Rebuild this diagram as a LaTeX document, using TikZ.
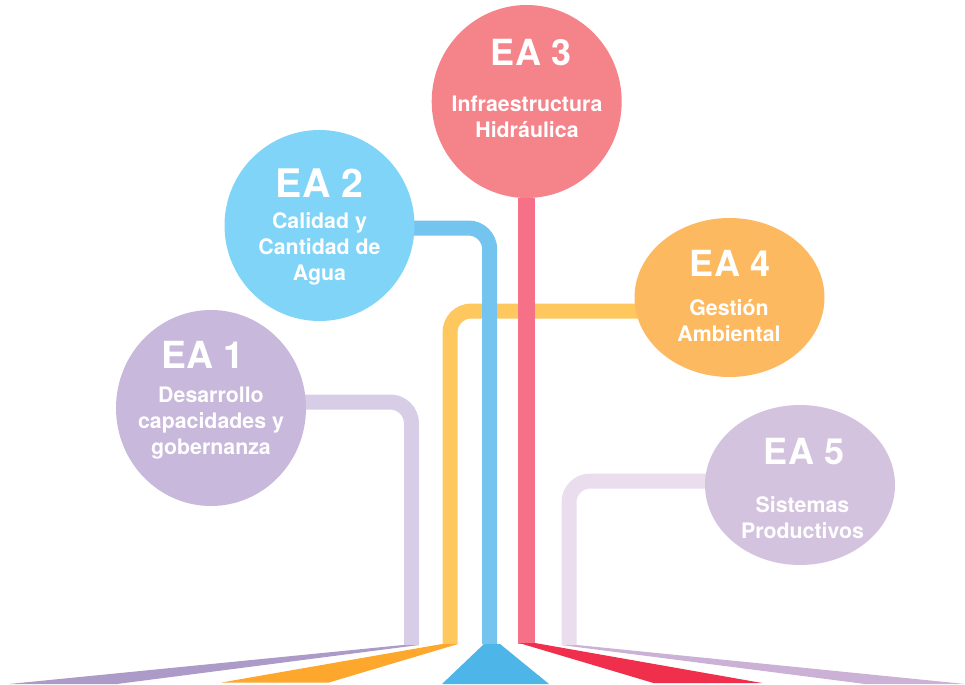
\documentclass[tikz,border=0pt]{standalone}
\usepackage{fontspec}
\setmainfont{TeX Gyre Heros}
\usetikzlibrary{shapes.geometric,backgrounds}
\definecolor{cA}{HTML}{C8B8DB}\definecolor{cB}{HTML}{80D4F8}\definecolor{cC}{HTML}{F5838A}\definecolor{cD}{HTML}{FDB95F}\definecolor{cE}{HTML}{D4C3DF}
\definecolor{lA}{HTML}{D8CDE6}\definecolor{lB}{HTML}{73C5F0}\definecolor{lC}{HTML}{F67088}\definecolor{lD}{HTML}{FFC85F}\definecolor{lE}{HTML}{E9DDEE}
\definecolor{tA}{HTML}{AC9BC9}\definecolor{tB}{HTML}{4DB5E8}\definecolor{tC}{HTML}{F02F4D}\definecolor{tD}{HTML}{FDA82D}\definecolor{tE}{HTML}{CCB1D6}
\tikzset{
  blob/.style={ellipse,inner sep=0pt,minimum width=142.5pt},
  head/.style={text=white,font=\fontsize{27}{27}\selectfont\bfseries,inner sep=0pt},
  body/.style={text=white,font=\fontsize{16}{19.6}\selectfont\bfseries,align=center,inner sep=0pt},
  link/.style={line width=11.25pt,rounded corners=16pt}
}
\begin{document}
\begin{tikzpicture}[x=0.75pt,y=-0.75pt]
\useasboundingbox (0,0) rectangle (965,685);
% circles
\node[blob,fill=cA,minimum height=147pt] (ea1) at (211,408) {};
\node[blob,fill=cB,minimum height=143.25pt] (ea2) at (319.5,225.5) {};
\node[blob,fill=cC,minimum height=144.75pt] (ea3) at (526.7,101.5) {};
\node[blob,fill=cD,minimum height=119.25pt] (ea4) at (729.5,297.5) {};
\node[blob,fill=cE,minimum height=120pt] (ea5) at (800,485) {};
% connector bends and ends
\coordinate (s1) at (411,402); \coordinate (e1) at (411.5,645);
\coordinate (s2) at (490,228); \coordinate (e2) at (489.7,644);
\coordinate (e3) at (526.7,644);
\coordinate (s4) at (450,311); \coordinate (e4) at (450,644);
\coordinate (s5) at (569,481); \coordinate (e5) at (569,645);
\begin{scope}[on background layer]
\draw[link,draw=lA] (ea1 |- s1) -| (e1);
\draw[link,draw=lD] (ea4 |- s4) -| (e4);
\draw[link,draw=lB] (ea2 |- s2) -| (e2);
\draw[link,draw=lC,line width=12.75pt] (ea3) -- (e3);
\draw[link,draw=lE] (ea5 |- s5) -| (e5);
\end{scope}
% bases
\fill[tA] (403,645) -- (419,645) -- (117,684) -- (9,684) -- cycle;
\fill[tD] (442,644) -- (458,644) -- (329,682.5) -- (221.5,682.5) -- cycle;
\fill[tB] (484,644) -- (500,644) -- (549,684) -- (442,684) -- cycle;
\fill[tC] (519,643) -- (535,643) -- (762,683) -- (653.5,683) -- cycle;
\fill[tE] (561,645) -- (577,645) -- (965,684) -- (865,684) -- cycle;
% texts
\node[head] (h1) at (203,355) {\fontsize{28}{28}\selectfont EA 1};
\node[body] (b1) at (211,423) {Desarrollo\\capacidades y\\gobernanza};
\node[head] (h2) at (319.5,183) {\fontsize{29.5}{29.5}\selectfont EA 2};
\node[body] (b2) at (319.5,249) {Calidad y\\Cantidad de\\Agua};
\node[head] (h3) at (531,53) {EA 3};
\node[body] (b3) at (527,117) {Infraestructura\\Hidráulica};
\node[head] (h4) at (730,263) {EA 4};
\node[body] (b4) at (729,321) {Gestión\\Ambiental};
\node[head] (h5) at (804,452) {EA 5};
\node[body] (b5) at (802.5,517.5) {Sistemas\\Productivos};
\end{tikzpicture}
\end{document}
